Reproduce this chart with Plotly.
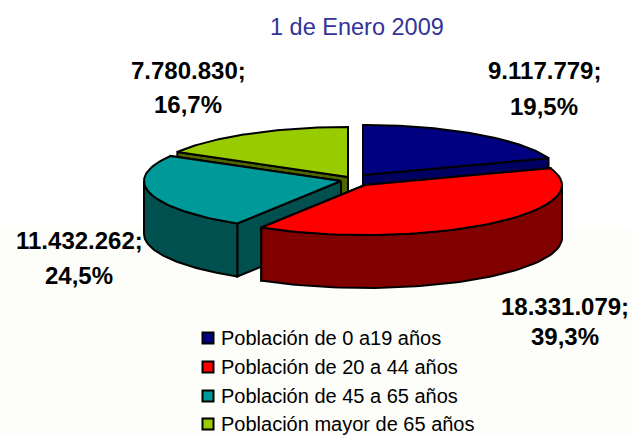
import math
import plotly.graph_objects as go

# Data
categories = ["Población de 0 a19 años", "Población de 20 a 44 años",
              "Población de 45 a 65 años", "Población mayor de 65 años"]
values = [9117779, 18331079, 11432262, 7780830]
value_labels = ["9.117.779;", "18.331.079;", "11.432.262;", "7.780.830;"]
percent_labels = ["19,5%", "39,3%", "24,5%", "16,7%"]
title_text = "1 de Enero 2009"

# Styles and layout
top_colors = ["#000080", "#FF0000", "#009999", "#99CC00"]
wall_colors = ["#000060", "#800000", "#005050", "#4D6600"]
centers = [(363, 175), (365, 185), (341, 181), (348, 177)]
RX, RY, DEPTH = 197, 50, 53
draw_order = [3, 0, 2, 1]
label_pos = [(544, 70, 106), (565, 306, 336), (79, 240, 275), (188, 70, 104)]
legend_rows = [338, 367, 396, 424]
LEGEND_MARK_X, LEGEND_TEXT_X = 208, 219

total = sum(values)
bounds = [0.0]
for v in values:
    bounds.append(bounds[-1] + 360.0 * v / total)


def rim(c, a0, a1, dy=0.0, n=60):
    pts = []
    for i in range(n + 1):
        t = math.radians(a0 + (a1 - a0) * i / n)
        pts.append((c[0] + RX * math.sin(t), c[1] - RY * math.cos(t) + dy))
    return pts


def edge(c, a):
    t = math.radians(a)
    return (c[0] + RX * math.sin(t), c[1] - RY * math.cos(t))


fig = go.Figure()


def poly(pts, color):
    xs = [p[0] for p in pts] + [pts[0][0]]
    ys = [p[1] for p in pts] + [pts[0][1]]
    fig.add_trace(go.Scatter(x=xs, y=ys, mode="lines", fill="toself", fillcolor=color,
                             line=dict(color="black", width=2), showlegend=False,
                             hoverinfo="skip"))


for i in draw_order:
    c, a0, a1 = centers[i], bounds[i], bounds[i + 1]
    faces = sorted([a0, a1], key=lambda a: abs(a - 180), reverse=True)
    for a in faces:
        e = edge(c, a)
        poly([c, e, (e[0], e[1] + DEPTH), (c[0], c[1] + DEPTH)], wall_colors[i])
    w0, w1 = max(a0, 90), min(a1, 270)
    if w1 > w0:
        poly(rim(c, w0, w1) + rim(c, w1, w0, DEPTH), wall_colors[i])
    poly([c] + rim(c, a0, a1), top_colors[i])

# Legend rows
fig.add_trace(go.Scatter(x=[LEGEND_MARK_X] * 4, y=legend_rows, mode="markers", showlegend=False,
                         hoverinfo="skip",
                         marker=dict(symbol="square", size=11, color=top_colors,
                                     line=dict(color="black", width=2))))

ann = [dict(x=357, y=27, text=title_text, showarrow=False,
            font=dict(family="Liberation Sans", size=23.5, color="#333399"))]
for (vl, pl, (x, y1, y2)) in zip(value_labels, percent_labels, label_pos):
    for t, y in ((vl, y1), (pl, y2)):
        ann.append(dict(x=x, y=y, text=f"<b>{t}</b>", showarrow=False,
                        font=dict(family="Liberation Sans", size=24, color="black")))
for name, y in zip(categories, legend_rows):
    ann.append(dict(x=LEGEND_TEXT_X, y=y, text=name, showarrow=False, xanchor="left",
                    font=dict(family="Liberation Sans", size=20, color="black")))

fig.update_layout(
    width=633, height=435, autosize=False,
    margin=dict(l=0, r=0, t=0, b=0),
    paper_bgcolor="white", plot_bgcolor="rgba(0,0,0,0)",
    xaxis=dict(range=[0, 633], visible=False, fixedrange=True),
    yaxis=dict(range=[435, 0], visible=False, fixedrange=True),
    annotations=ann,
    shapes=[dict(type="rect", xref="paper", yref="y", x0=0, x1=1, y0=228, y1=435,
                 fillcolor="#FDFDF9", line=dict(width=0), layer="below")],
    showlegend=False,
)
fig.write_html("out.html", config=dict(displayModeBar=False),
               post_script="document.body.style.margin='0';document.body.style.overflow='hidden';")
